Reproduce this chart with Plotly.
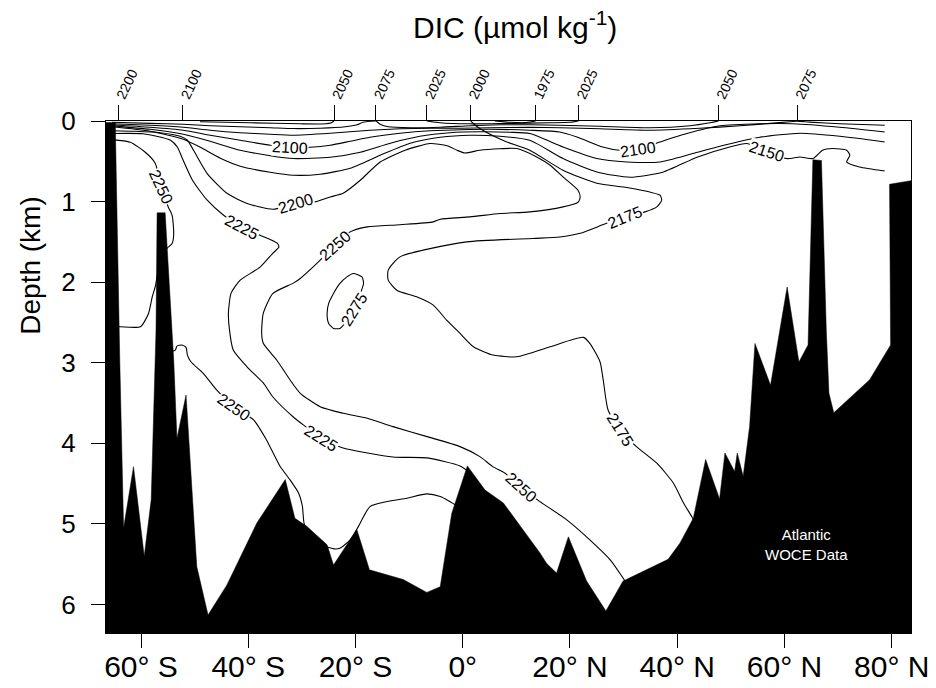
import plotly.graph_objects as go

# ---------------- axes ----------------
lat_ticks = [-60, -40, -20, 0, 20, 40, 60, 80]
lat_tick_text = ["60° S", "40° S", "20° S", "0°", "20° N", "40° N", "60° N", "80° N"]
depth_ticks = [0, 1, 2, 3, 4, 5, 6]
lat_range = [-66.53, 83.6]
depth_range = [6.354, 0]

# DIC value where each contour meets the sea surface
surface_lat = [-64.2, -52.2, -24.0, -16.2, -6.7, 1.5, 13.6, 21.6, 47.7, 62.4]
surface_dic = ["2200", "2100", "2050", "2075", "2025", "2000", "1975", "2025", "2050", "2075"]

# ---------------- sea floor (km) ----------------
bathy_lat = [-66.53, -64.8, -63.96, -63.6, -63.25, -61.4, -59.4, -58.1, -57.2, -57.0, -55.5,
             -53.9, -53.3, -51.6, -49.6, -47.5, -44.0, -38.4, -33.1, -31.3, -29.1, -25.3,
             -24.1, -19.75, -17.4, -11.1, -6.7, -4.2, -2.05, 0.86, 4.16, 7.57, 14.4, 15.65,
             17.5, 19.7, 23.1, 26.7, 29.9, 38.3, 40.5, 43.0, 45.3, 47.9, 48.9, 50.7, 51.2,
             52.3, 53.5, 54.5, 57.4, 60.5, 62.7, 64.4, 65.3, 66.9, 67.8, 68.3, 69.2, 75.9,
             79.8, 79.6, 83.6]
bathy_depth = [0.02, 0.02, 2.97, 4.09, 5.05, 4.29, 5.40, 4.70, 2.59, 1.14, 1.14,
               2.97, 3.94, 3.40, 5.53, 6.13, 5.76, 4.99, 4.45, 4.93, 5.03, 5.26,
               5.51, 5.07, 5.57, 5.69, 5.85, 5.78, 4.87, 4.28, 4.58, 4.74, 5.36, 5.49,
               5.61, 5.16, 5.71, 6.08, 5.71, 5.44, 5.24, 4.93, 4.20, 4.69, 4.12, 4.35, 4.12,
               4.41, 3.79, 2.76, 3.28, 2.06, 2.99, 2.78, 0.48, 0.49, 2.59, 3.38, 3.62, 3.21,
               2.78, 0.785, 0.74]

# ---------------- DIC contours (lat, depth km) ----------------
c2050_lat = [-49.0, -39.6, -30.3, -25.5, -24.5, -24.0]
c2050_dep = [0.010, 0.022, 0.035, 0.035, 0.022, 0.0]

c2075_lat = [-65.4, -58.3, -52.1, -47.1, -41.5, -35.9, -31.6, -26.6, -21.9, -19.7, -18.6, -17.3,
             -16.2, -15.4, -13.9, -9.8, -4.2, 1.4, 6.95, 12.5, 18.1, 25.6, 34.9, 42.4, 46.1, 47.7]
c2075_dep = [0.016, 0.029, 0.041, 0.059, 0.072, 0.084, 0.094, 0.09, 0.072, 0.047, 0.016, 0.004,
             0.0, 0.041, 0.072, 0.084, 0.078, 0.059, 0.047, 0.047, 0.053, 0.066, 0.084, 0.059, 0.022, 0.0]

c2025_lat = [-6.7, -4.2, 1.4, 8.8, 16.3, 20.0, 21.6]
c2025_dep = [0.0, 0.022, 0.035, 0.029, 0.022, 0.016, 0.0]

c1975_lat = [6.0, 8.8, 11.6, 13.6]
c1975_dep = [0.0, 0.016, 0.020, 0.0]

c2085_lat = [-65.4, -58.3, -52.1, -47.1, -41.5, -35.9, -31.6, -24.7, -17.3, -11.7, -6.1, -0.5, 5.1,
             12.5, 18.1, 25.6, 34.9, 44.2, 51.7, 57.3, 61.0, 62.4, 64.7, 70.3, 78.7]
c2085_dep = [0.035, 0.053, 0.078, 0.115, 0.146, 0.165, 0.177, 0.152, 0.115, 0.097, 0.09, 0.09, 0.084,
             0.078, 0.084, 0.097, 0.115, 0.09, 0.059, 0.029, 0.01, 0.002, 0.014, 0.035, 0.053]

c2100_lat = [-65.4, -58.3, -52.1, -47.1, -41.5, -35.9, -32.2, -28.4, -24.7, -21.0, -17.3, -11.7,
             -6.1, -0.5, 5.1, 12.5, 18.1, 21.3, 26.1, 29.3, 32.7, 36.8, 41.8, 47.95, 55.4, 61.6,
             70.3, 78.7]
c2100_dep = [0.047, 0.078, 0.115, 0.177, 0.239, 0.301, 0.33, 0.326, 0.301, 0.252, 0.202, 0.152,
             0.121, 0.109, 0.103, 0.115, 0.136, 0.198, 0.322, 0.363, 0.351, 0.26, 0.156, 0.06,
             0.035, 0.035, 0.078, 0.136]

c2125_lat = [-65.4, -58.3, -52.1, -47.1, -41.5, -35.9, -31.6, -24.7, -19.1, -13.5, -8.0, -2.4, 3.2,
             8.8, 12.5, 18.7, 25.0, 30.6, 36.8, 42.9, 47.95, 55.4, 62.9, 70.3, 78.7]
c2125_dep = [0.06, 0.103, 0.165, 0.252, 0.363, 0.431, 0.466, 0.45, 0.388, 0.276, 0.19, 0.146, 0.134,
             0.14, 0.156, 0.322, 0.466, 0.508, 0.508, 0.404, 0.314, 0.202, 0.152, 0.19, 0.26]

c2150_lat = [-65.4, -58.3, -52.1, -48.96, -45.2, -41.5, -35.9, -31.6, -26.6, -21.0, -15.4, -9.8,
             -4.2, 1.4, 6.95, 12.5, 18.7, 25.0, 31.2, 37.3, 43.7, 49.8, 53.0, 56.7, 60.4, 62.9,
             65.3, 67.1, 69.0, 71.6, 72.2, 71.6, 74.0, 78.7]
c2150_dep = [0.072, 0.127, 0.227, 0.326, 0.462, 0.561, 0.636, 0.673, 0.66, 0.586, 0.425, 0.276,
             0.202, 0.177, 0.19, 0.239, 0.466, 0.632, 0.698, 0.636, 0.449, 0.322, 0.28, 0.376,
             0.466, 0.446, 0.466, 0.363, 0.342, 0.363, 0.425, 0.508, 0.57, 0.62]

c2175_lat = [1.5, 2.85, 5.1, 7.9, 12.5, 18.7, 25.0, 30.6, 34.9, 36.8, 37.1, 36.2, 34.0, 30.2, 26.8,
             21.9, 18.1, 13.1, 0.75, -11.7, -13.9, -13.9, -12.3, -8.6, -5.5, -3.0, -0.5, 2.0,
             5.7, 10.1, 16.3, 22.5, 23.7, 25.6, 26.2, 27.1, 29.3, 32.4, 36.2, 39.3, 41.2, 42.7, 43.8]
c2175_dep = [0.0, 0.078, 0.165, 0.252, 0.363, 0.611, 0.772, 0.825, 0.882, 0.921, 0.983, 1.066,
             1.128, 1.194, 1.27, 1.394, 1.44, 1.458, 1.5, 1.686, 1.851, 1.975, 2.1, 2.182, 2.285,
             2.471, 2.636, 2.802, 2.905, 2.926, 2.802, 2.685, 2.759, 2.988, 3.214, 3.586, 3.834,
             4.041, 4.247, 4.495, 4.743, 4.908, 5.053]

c2200_lat = [-65.4, -61.1, -56.4, -52.7, -51.35, -50.2, -47.65, -43.9, -40.2, -35.4, -31.1, -27.5,
             -24.7, -22.3, -19.1, -15.4, -10.75, -6.1, -2.9, -1.06, 0.43, 3.2, 6.95, 10.1, 13.8,
             16.3, 18.7, 21.5, 21.9, 21.5, 18.7, 12.5, 6.95, 1.36, -4.2, -5.5, -11.7, -17.8,
             -21.0, -23.8, -27.2, -30.3, -31.6, -35.4, -37.2, -37.5, -37.2, -34.7, -32.2, -30.3,
             -26.6, -22.3, -17.8, -13.0, -6.65, -0.5, 3.2, 5.6, 7.9, 10.9, 14.4, 19.4, 23.7,
             27.5, 29.9, 31.5]
c2200_dep = [0.121, 0.128, 0.146, 0.19, 0.239, 0.363, 0.652, 0.9, 1.024, 1.095, 1.026, 1.004,
             0.942, 0.896, 0.735, 0.508, 0.363, 0.28, 0.307, 0.363, 0.397, 0.363, 0.345, 0.342,
             0.446, 0.549, 0.694, 0.859, 0.946, 1.008, 1.066, 1.128, 1.148, 1.19, 1.219, 1.252,
             1.287, 1.314, 1.376, 1.541, 1.768, 1.954, 2.012, 2.14, 2.388, 2.635, 2.759, 2.966,
             3.214, 3.379, 3.545, 3.627, 3.689, 3.793, 3.917, 4.041, 4.165, 4.289, 4.371, 4.553,
             4.723, 4.95, 5.198, 5.446, 5.672, 5.842]

c2225_lat = [-65.4, -59.6, -54.5, -53.2, -52.3, -50.4, -47.65, -44.6, -41.1, -37.8, -34.6, -34.3,
             -35.4, -37.8, -41.5, -43.2, -43.7, -43.5, -42.8, -40.2, -37.2, -35.4, -31.6, -29.0,
             -26.4, -22.3, -13.0, -6.65, -0.5, 1.7]
c2225_dep = [0.156, 0.159, 0.239, 0.326, 0.462, 0.735, 0.983, 1.169, 1.318, 1.417, 1.516, 1.566,
             1.64, 1.814, 1.975, 2.136, 2.384, 2.595, 2.843, 3.053, 3.251, 3.425, 3.673, 3.809,
             3.946, 4.057, 4.169, 4.181, 4.28, 4.38]

c2250w_lat = [-65.4, -62.0, -59.2, -57.35, -56.2, -54.9, -54.2, -53.9, -54.2, -55.2, -56.4, -57.35,
              -57.9, -58.6, -60.1, -63.9, -65.8]
c2250w_dep = [0.231, 0.264, 0.388, 0.524, 0.822, 1.07, 1.17, 1.4, 1.521, 1.583, 1.727, 2.057,
              2.181, 2.388, 2.553, 2.553, 2.553]

c2250d_lat = [-54.9, -53.6, -53.3, -52.4, -51.6, -51.35, -50.7, -48.4, -45.9, -42.6, -39.0, -36.6,
              -34.05, -32.2, -30.6, -29.9, -29.6, -28.9, -26.4, -24.0, -22.9, -21.0, -19.5,
              -17.3, -14.1, -10.4, -6.7, -4.2, -1.4, -0.13]
c2250d_dep = [2.868, 2.843, 2.793, 2.78, 2.809, 2.905, 2.988, 3.131, 3.338, 3.553, 3.71, 3.958,
              4.288, 4.454, 4.619, 4.784, 4.99, 5.098, 5.26, 5.31, 5.302, 5.198, 5.037, 4.785,
              4.723, 4.681, 4.628, 4.661, 4.764, 4.851]

c2275_lat = [-20.4, -18.8, -18.5, -19.1, -20.3, -21.5, -22.9, -24.1, -25.0, -25.3, -25.0, -24.1,
             -22.9, -21.6, -20.4]
c2275_dep = [1.892, 1.934, 2.016, 2.14, 2.334, 2.47, 2.574, 2.574, 2.512, 2.388, 2.264, 2.14,
             2.016, 1.934, 1.892]

# contour labels: text, lat, depth, rotation (deg)
label_text = ["2100", "2200", "2225", "2250", "2250", "2275", "2250", "2225", "2250",
              "2100", "2150", "2175", "2175"]
label_lat = [-32.2, -31.1, -41.1, -56.2, -23.8, -20.3, -42.6, -26.4, 10.9,
             32.7, 56.7, 30.2, 29.3]
label_depth = [0.33, 1.026, 1.318, 0.822, 1.541, 2.334, 3.553, 3.946, 4.553,
               0.351, 0.376, 1.194, 3.834]
label_angle = [3, -17, 28, 65, -42, -58, 35, 32, 42, -8, 18, -22, 58]

FONT = "Liberation Sans, Arial, Helvetica, sans-serif"

contours = [
    (c2050_lat, c2050_dep), (c2075_lat, c2075_dep), (c2025_lat, c2025_dep),
    (c1975_lat, c1975_dep), (c2085_lat, c2085_dep), (c2100_lat, c2100_dep),
    (c2125_lat, c2125_dep), (c2150_lat, c2150_dep), (c2175_lat, c2175_dep),
    (c2200_lat, c2200_dep), (c2225_lat, c2225_dep), (c2250w_lat, c2250w_dep),
    (c2250d_lat, c2250d_dep), (c2275_lat, c2275_dep),
]

fig = go.Figure()

for lx, dy in contours:
    fig.add_trace(go.Scatter(
        x=lx, y=dy, mode="lines", line=dict(color="black", width=1.1, shape="spline", smoothing=0.6),
        hoverinfo="skip", showlegend=False,
    ))

# sea floor drawn over the contours
fig.add_trace(go.Scatter(
    x=bathy_lat + [bathy_lat[-1], bathy_lat[0]],
    y=bathy_depth + [6.6, 6.6],
    mode="lines", fill="toself", fillcolor="black",
    line=dict(color="black", width=0.5), hoverinfo="skip", showlegend=False,
))

# invisible trace so the top (surface DIC) axis is drawn
fig.add_trace(go.Scatter(x=[lat_range[0]], y=[0], xaxis="x2", mode="markers",
                         marker=dict(opacity=0), hoverinfo="skip", showlegend=False))

for t, la, de, an in zip(label_text, label_lat, label_depth, label_angle):
    fig.add_annotation(x=la, y=de, xref="x", yref="y", text=t, showarrow=False,
                       textangle=an, bgcolor="white", borderpad=0,
                       font=dict(family=FONT, size=16, color="black"))

fig.add_annotation(x=64.2, y=5.26, xref="x", yref="y", text="Atlantic<br>WOCE Data",
                   showarrow=False, font=dict(family=FONT, size=15, color="white"))

fig.add_annotation(x=0.508, y=1.188, xref="paper", yref="paper",
                   text="DIC (µmol kg<sup>-1</sup>)", showarrow=False,
                   xanchor="center", yanchor="middle",
                   font=dict(family=FONT, size=30, color="black"))
fig.add_annotation(x=-0.094, y=0.718, xref="paper", yref="paper", text="Depth (km)",
                   textangle=-90, showarrow=False, xanchor="center", yanchor="middle",
                   font=dict(family=FONT, size=28, color="black"))

fig.update_layout(
    width=936, height=688,
    margin=dict(l=106, r=25, t=121, b=55),
    plot_bgcolor="white", paper_bgcolor="white",
    font=dict(family=FONT, color="black"),
    xaxis=dict(range=lat_range, tickvals=lat_ticks, ticktext=lat_tick_text, automargin=False,
               ticks="outside", ticklen=14, tickcolor="black", showgrid=False, zeroline=False,
               showline=True, linecolor="black", linewidth=1, ticklabelstandoff=-7,
               tickfont=dict(family=FONT, size=30, color="black")),
    xaxis2=dict(range=lat_range, overlaying="x", side="top", tickvals=surface_lat,
                ticktext=surface_dic, tickangle=-65, ticks="outside", ticklen=15,
                tickcolor="black", showgrid=False, zeroline=False, showline=True,
                linecolor="black", linewidth=1, automargin=False, ticklabelstandoff=-5,
                tickfont=dict(family=FONT, size=14, color="black")),
    yaxis=dict(range=depth_range, tickvals=depth_ticks, ticks="outside", ticklen=14,
               tickcolor="black", showgrid=False, zeroline=False, showline=True,
               linecolor="black", linewidth=1, mirror=True, ticklabelstandoff=10,
               automargin=False,
               tickfont=dict(family=FONT, size=26, color="black")),
)

fig.write_html("out.html")
